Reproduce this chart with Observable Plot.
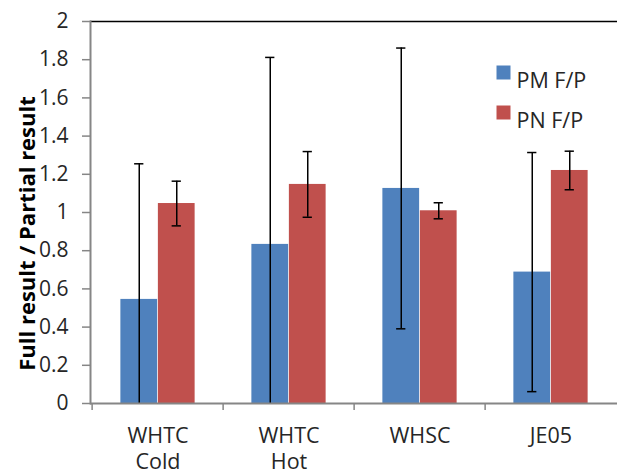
<!DOCTYPE html>
<html>
<head>
<meta charset="utf-8">
<script src="https://cdn.jsdelivr.net/npm/d3@7"></script>
<script src="https://cdn.jsdelivr.net/npm/@observablehq/plot@0.6"></script>
<style>
  body { margin: 0; background: #fff; }
  #chart svg [aria-label="y-axis tick"] { stroke: #868686; stroke-width: 1.5px; }
</style>
</head>
<body>
<div id="chart"></div>
<script>
// Test cycles and the two ratio series (full result / partial result)
const cycles = ["WHTC\nCold", "WHTC\nHot", "WHSC", "JE05"];
const series = ["PM F/P", "PN F/P"];
const pmRatio = [0.545, 0.833, 1.126, 0.688];
const pmError = [0.71, 0.979, 0.735, 0.626];
const pnRatio = [1.047, 1.147, 1.009, 1.22];
const pnError = [0.117, 0.172, 0.042, 0.101];
const yTicks = [0, 0.2, 0.4, 0.6, 0.8, 1, 1.2, 1.4, 1.6, 1.8, 2];
const colors = ["#4F81BD", "#C0504D"];

const width = 617, height = 472;
const marginLeft = 90, marginRight = 0, marginTop = 21, marginBottom = 69;
const band = (width - marginLeft - marginRight) / cycles.length;
const frameH = height - marginTop - marginBottom;
const barW = 37.5;      // width of one bar
const capHalf = 5;      // half width of an error-bar cap
const axisGray = "#868686";
const textColor = "#262626";

const pmRows = cycles.map((c, i) => ({cycle: c, value: pmRatio[i], err: pmError[i]}));
const pnRows = cycles.map((c, i) => ({cycle: c, value: pnRatio[i], err: pnError[i]}));

function seriesMarks(rows, color, side) {
  // side = -1 for the left bar of a group, +1 for the right one
  const offset = side * barW / 2;
  return [
    Plot.barY(rows, {
      x: "cycle", y: "value", fill: color,
      insetLeft: side < 0 ? band / 2 - barW : band / 2,
      insetRight: side < 0 ? band / 2 : band / 2 - barW
    }),
    Plot.ruleX(rows, {
      x: "cycle", y1: d => d.value - d.err, y2: d => d.value + d.err,
      dx: offset, stroke: "#000", strokeWidth: 1.5, clip: true
    }),
    Plot.tickY(rows, {
      x: "cycle", y: d => d.value + d.err, dx: offset,
      insetLeft: band / 2 - capHalf, insetRight: band / 2 - capHalf,
      stroke: "#000", strokeWidth: 1.5, clip: true
    }),
    Plot.tickY(rows, {
      x: "cycle", y: d => d.value - d.err, dx: offset,
      insetLeft: band / 2 - capHalf, insetRight: band / 2 - capHalf,
      stroke: "#000", strokeWidth: 1.5, clip: true
    })
  ];
}

const chart = Plot.plot({
  width, height, marginLeft, marginRight, marginTop, marginBottom,
  style: {fontFamily: "'Open Sans', sans-serif", fontSize: "21px", color: textColor, background: "#fff"},
  x: {type: "band", domain: cycles, padding: 0},
  y: {domain: [0, 2]},
  marks: [
    ...seriesMarks(pmRows, colors[0], -1),
    ...seriesMarks(pnRows, colors[1], +1),
    // plot area border: black top line, gray axes
    Plot.ruleY([2], {stroke: "#000", strokeWidth: 1.5}),
    Plot.ruleY([0], {stroke: axisGray, strokeWidth: 2}),
    Plot.frame({anchor: "left", stroke: axisGray, strokeWidth: 2}),
    // category boundary ticks below the x axis
    Plot.ruleX(cycles, {dx: -band / 2, insetTop: frameH, insetBottom: -7, stroke: axisGray, strokeWidth: 1.5}),
    Plot.axisY(yTicks, {tickSize: 8, tickPadding: 14, tickFormat: d => String(d), label: null, fill: textColor, fontSize: 21}),
    Plot.axisX({tickSize: 0, tickPadding: 20, label: null, lineHeight: 1.25, fill: textColor, fontSize: 21.5}),
    Plot.text(["Full result / Partial result"], {
      frameAnchor: "left", rotate: -90, dx: -63, dy: 21,
      textAnchor: "middle", lineAnchor: "middle",
      fontWeight: "bold", fontSize: 22, fill: "#000"
    }),
    // legend
    ...series.map((s, i) => Plot.dot([s], {
      frameAnchor: "top-left", dx: 413, dy: 51 + 40 * i,
      symbol: "square", r: 7.9, fill: colors[i], stroke: null
    })),
    ...series.map((s, i) => Plot.text([s], {
      frameAnchor: "top-left", dx: 426, dy: 51 + 40 * i,
      text: d => d, textAnchor: "start", fontSize: 21.5, fill: textColor
    }))
  ]
});

document.getElementById("chart").appendChild(chart);
</script>
</body>
</html>
